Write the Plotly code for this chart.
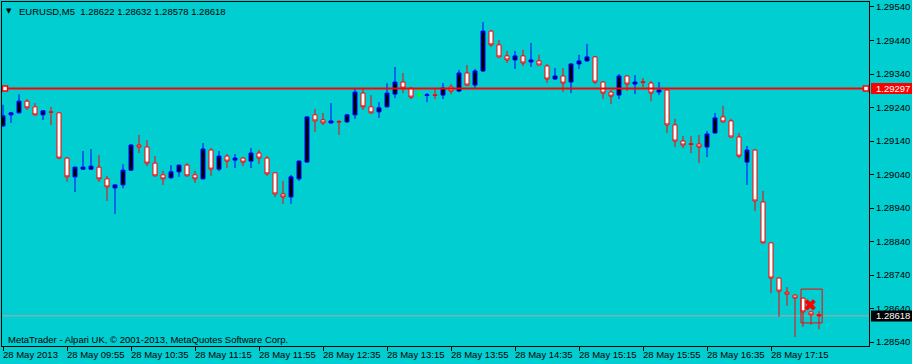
import plotly.graph_objects as go

# ---------------- data ----------------
bar_index = list(range(103))  # 5-minute bars, 0 = 28 May 09:15
open_ = [1.29185, 1.29218, 1.29224, 1.29259, 1.29242, 1.29218, 1.29227, 1.29224, 1.29089, 1.29033,
         1.29056, 1.29056, 1.29062, 1.29027, 1.29000, 1.29009, 1.29053, 1.29128, 1.29122, 1.29074,
         1.29039, 1.29030, 1.29048, 1.29068, 1.29039, 1.29027, 1.29113, 1.29056, 1.29095, 1.29083,
         1.29089, 1.29080, 1.29104, 1.29089, 1.29045, 1.28982, 1.28973, 1.29027, 1.29077, 1.29218,
         1.29203, 1.29194, 1.29198, 1.29197, 1.29218, 1.29283, 1.29242, 1.29227, 1.29242, 1.29280,
         1.29316, 1.29298, 1.29277, 1.29276, 1.29278, 1.29277, 1.29301, 1.29289, 1.29343, 1.29307,
         1.29349, 1.29468, 1.29427, 1.29394, 1.29382, 1.29394, 1.29376, 1.29379, 1.29364, 1.29325,
         1.29334, 1.29316, 1.29370, 1.29379, 1.29391, 1.29316, 1.29286, 1.29277, 1.29334, 1.29310,
         1.29317, 1.29313, 1.29286, 1.29292, 1.29188, 1.29140, 1.29132, 1.29131, 1.29122, 1.29164,
         1.29212, 1.29200, 1.29152, 1.29077, 1.29113, 1.28958, 1.28836, 1.28731, 1.28689, 1.28680,
         1.28671, 1.28630, 1.28622]
high = [1.29248, 1.29227, 1.29280, 1.29265, 1.29253, 1.29230, 1.29242, 1.29226, 1.29092, 1.29063,
        1.29110, 1.29116, 1.29098, 1.29036, 1.29010, 1.29071, 1.29131, 1.29158, 1.29143, 1.29095,
        1.29051, 1.29068, 1.29069, 1.29074, 1.29051, 1.29134, 1.29119, 1.29110, 1.29101, 1.29101,
        1.29092, 1.29119, 1.29113, 1.29095, 1.29047, 1.29021, 1.29039, 1.29082, 1.29214, 1.29236,
        1.29224, 1.29253, 1.29203, 1.29221, 1.29298, 1.29298, 1.29277, 1.29256, 1.29313, 1.29361,
        1.29343, 1.29300, 1.29295, 1.29283, 1.29298, 1.29313, 1.29310, 1.29352, 1.29367, 1.29355,
        1.29495, 1.29471, 1.29442, 1.29409, 1.29409, 1.29412, 1.29433, 1.29397, 1.29370, 1.29358,
        1.29358, 1.29372, 1.29397, 1.29430, 1.29394, 1.29318, 1.29292, 1.29340, 1.29336, 1.29337,
        1.29328, 1.29319, 1.29316, 1.29294, 1.29206, 1.29155, 1.29155, 1.29158, 1.29170, 1.29224,
        1.29245, 1.29206, 1.29164, 1.29125, 1.29115, 1.28991, 1.28838, 1.28733, 1.28704, 1.28682,
        1.28673, 1.28632, 1.28632]
low = [1.29182, 1.29194, 1.29222, 1.29233, 1.29216, 1.29203, 1.29188, 1.29086, 1.29018, 1.28988,
       1.29055, 1.29055, 1.29018, 1.28961, 1.28922, 1.28999, 1.29051, 1.29104, 1.29065, 1.29034,
       1.29009, 1.29028, 1.29033, 1.29034, 1.29015, 1.29025, 1.29036, 1.29050, 1.29059, 1.29059,
       1.29065, 1.29059, 1.29071, 1.29036, 1.28973, 1.28952, 1.28952, 1.29021, 1.29075, 1.29167,
       1.29188, 1.29192, 1.29158, 1.29194, 1.29206, 1.29233, 1.29222, 1.29209, 1.29240, 1.29268,
       1.29283, 1.29265, 1.29268, 1.29256, 1.29265, 1.29265, 1.29280, 1.29286, 1.29305, 1.29295,
       1.29346, 1.29421, 1.29389, 1.29373, 1.29355, 1.29364, 1.29361, 1.29365, 1.29313, 1.29323,
       1.29286, 1.29283, 1.29355, 1.29377, 1.29310, 1.29265, 1.29250, 1.29265, 1.29289, 1.29280,
       1.29301, 1.29259, 1.29277, 1.29164, 1.29122, 1.29119, 1.29104, 1.29074, 1.29092, 1.29162,
       1.29195, 1.29150, 1.29089, 1.29009, 1.28931, 1.28834, 1.28686, 1.28615, 1.28648, 1.28555,
       1.28585, 1.28591, 1.28578]
close = [1.29215, 1.29224, 1.29259, 1.29239, 1.29218, 1.29230, 1.29226, 1.29089, 1.29033, 1.29062,
         1.29062, 1.29065, 1.29027, 1.29003, 1.29009, 1.29053, 1.29128, 1.29122, 1.29074, 1.29036,
         1.29027, 1.29048, 1.29068, 1.29036, 1.29027, 1.29116, 1.29056, 1.29095, 1.29080, 1.29089,
         1.29077, 1.29104, 1.29089, 1.29042, 1.28982, 1.28973, 1.29033, 1.29080, 1.29212, 1.29200,
         1.29194, 1.29200, 1.29197, 1.29218, 1.29286, 1.29242, 1.29224, 1.29239, 1.29283, 1.29316,
         1.29298, 1.29271, 1.29277, 1.29278, 1.29276, 1.29298, 1.29289, 1.29343, 1.29307, 1.29349,
         1.29468, 1.29427, 1.29391, 1.29382, 1.29394, 1.29373, 1.29382, 1.29367, 1.29325, 1.29334,
         1.29313, 1.29370, 1.29379, 1.29391, 1.29316, 1.29283, 1.29274, 1.29334, 1.29310, 1.29316,
         1.29315, 1.29283, 1.29292, 1.29188, 1.29140, 1.29128, 1.29130, 1.29122, 1.29161, 1.29209,
         1.29197, 1.29152, 1.29095, 1.29113, 1.28961, 1.28836, 1.28731, 1.28692, 1.28683, 1.28671,
         1.28630, 1.28621, 1.28618]

label_index = [0, 8, 16, 24, 32, 40, 48, 56, 64, 72, 80, 88, 96]
time_labels = ["28 May 2013", "28 May 09:55", "28 May 10:35", "28 May 11:15", "28 May 11:55",
               "28 May 12:35", "28 May 13:15", "28 May 13:55", "28 May 14:35", "28 May 15:15",
               "28 May 15:55", "28 May 16:35", "28 May 17:15"]
price_ticks = [1.28540, 1.28640, 1.28740, 1.28840, 1.28940, 1.29040,
               1.29140, 1.29240, 1.29340, 1.29440, 1.29540]

symbol_text = "EURUSD,M5"
last_ohlc = [1.28622, 1.28632, 1.28578, 1.28618]
hline_price = 1.29297
bid_price = 1.28618
copyright_text = "MetaTrader - Alpari UK, \u00a9 2001-2013, MetaQuotes Software Corp."

# trade object drawn on the last bars (bar index / price)
box_x = [99.75, 102.4]
box_y = [1.28597, 1.28698]
close_mark_x = [100.9]
close_mark_y = [1.28651]

# ---------------- style ----------------
BG = "#00CED1"
FONT = "Liberation Sans"
FS = 9.5

# plot area in pixels: x 2..869, y 2..346
L, R, T, B = 2, 43, 2, 18
W, H = 912, 364
PW, PH = W - L - R, H - T - B

def px_to_paper_x(px):
    return (px - L) / PW

def px_to_paper_y(py):
    return (H - B - py) / PH

reg = [i for i in bar_index if open_[i] != close[i]]
doj = [i for i in bar_index if open_[i] == close[i]]

fig = go.Figure()
fig.add_trace(go.Candlestick(
    x=[bar_index[i] for i in reg], open=[open_[i] for i in reg], high=[high[i] for i in reg],
    low=[low[i] for i in reg], close=[close[i] for i in reg],
    increasing=dict(line=dict(color="#0000FF", width=1), fillcolor="#000000"),
    decreasing=dict(line=dict(color="#FF0000", width=1), fillcolor="#FFFFFF"),
    whiskerwidth=0, hoverinfo="skip", showlegend=False))
fig.add_trace(go.Candlestick(
    x=[bar_index[i] for i in doj], open=[open_[i] for i in doj], high=[high[i] for i in doj],
    low=[low[i] for i in doj], close=[close[i] for i in doj],
    increasing=dict(line=dict(color="#00FF00", width=1), fillcolor="#00FF00"),
    decreasing=dict(line=dict(color="#00FF00", width=1), fillcolor="#00FF00"),
    whiskerwidth=0, hoverinfo="skip", showlegend=False))

# close marker (red X)
fig.add_trace(go.Scatter(x=close_mark_x, y=close_mark_y, mode="markers",
                         marker=dict(symbol="x", size=10, color="#FF0000", line=dict(width=0)),
                         hoverinfo="skip", showlegend=False))

shapes = []
# bid line
shapes.append(dict(type="line", xref="paper", yref="y", x0=0, x1=1, y0=bid_price, y1=bid_price,
                   line=dict(color="#C0A0A0", width=1), layer="below"))
# horizontal red line
shapes.append(dict(type="line", xref="paper", yref="y", x0=0, x1=1, y0=hline_price, y1=hline_price,
                   line=dict(color="#FF0000", width=2), layer="above"))
# anchor squares at both ends of the line
for pxc in (5, 866):
    shapes.append(dict(type="rect", xref="paper", yref="y", xsizemode="pixel", ysizemode="pixel",
                       xanchor=px_to_paper_x(pxc), yanchor=hline_price, x0=-2.5, x1=2.5, y0=-2.5, y1=2.5,
                       line=dict(color="#FF0000", width=1.5), fillcolor="#FFFFFF", layer="above"))
# rectangle object
shapes.append(dict(type="rect", xref="x", yref="y", x0=box_x[0], x1=box_x[1], y0=box_y[0], y1=box_y[1],
                   line=dict(color="#FF0000", width=1), fillcolor="rgba(0,0,0,0)", layer="above"))
# price label boxes on the right axis
shapes.append(dict(type="rect", xref="paper", yref="y", ysizemode="pixel", yanchor=hline_price,
                   x0=px_to_paper_x(871), x1=px_to_paper_x(912), y0=-5.5, y1=5.5,
                   line=dict(width=0), fillcolor="#FF0000", layer="above"))
shapes.append(dict(type="rect", xref="paper", yref="y", ysizemode="pixel", yanchor=bid_price,
                   x0=px_to_paper_x(871), x1=px_to_paper_x(912), y0=-5.5, y1=5.5,
                   line=dict(width=0), fillcolor="#000000", layer="above"))

annotations = []
title = "\u00a0\u00a0".join([symbol_text, " ".join(f"{v:.5f}" for v in last_ohlc)])
annotations.append(dict(xref="paper", yref="paper", x=px_to_paper_x(17), y=px_to_paper_y(11),
                        text=title, showarrow=False, xanchor="left", yanchor="middle",
                        font=dict(family=FONT, size=FS, color="#000000")))
annotations.append(dict(xref="paper", yref="paper", x=px_to_paper_x(9), y=px_to_paper_y(11),
                        text="\u25bc", showarrow=False, xanchor="center", yanchor="middle",
                        font=dict(family="DejaVu Sans", size=7, color="#000000")))
annotations.append(dict(xref="paper", yref="paper", x=px_to_paper_x(6), y=px_to_paper_y(339),
                        text=copyright_text, showarrow=False, xanchor="left", yanchor="middle",
                        font=dict(family=FONT, size=FS, color="#000000")))
for idx, txt in zip(label_index, time_labels):
    annotations.append(dict(xref="x", yref="paper", x=idx, y=px_to_paper_y(354), text=txt,
                            showarrow=False, xanchor="left", yanchor="middle", xshift=-2,
                            font=dict(family=FONT, size=FS, color="#000000")))
for price, col in ((hline_price, "#FFFFFF"), (bid_price, "#FFFFFF")):
    annotations.append(dict(xref="paper", yref="y", x=px_to_paper_x(874), y=price,
                            text=f"{price:.5f}", showarrow=False, xanchor="left", yanchor="middle",
                            font=dict(family=FONT, size=FS, color=col)))

fig.update_layout(
    template="none", width=W, height=H, margin=dict(l=L, r=R, t=T, b=B, pad=0),
    paper_bgcolor=BG, plot_bgcolor=BG, showlegend=False, boxgap=0.5, boxgroupgap=0,
    shapes=shapes, annotations=annotations, hovermode=False,
    xaxis=dict(range=[-0.125, 108.25], rangeslider=dict(visible=False), showgrid=False, zeroline=False,
               showline=True, linecolor="#000000", linewidth=1, mirror=True, ticks="outside", ticklen=4,
               tickcolor="#000000", tickwidth=1, tickvals=label_index, showticklabels=False,
               automargin=False, fixedrange=True),
    yaxis=dict(range=[1.285281, 1.295549], side="right", showgrid=False, zeroline=False,
               showline=True, linecolor="#000000", linewidth=1, mirror=True, ticks="outside", ticklen=4,
               tickcolor="#000000", tickwidth=1, tickvals=price_ticks,
               ticktext=[f"{v:.5f}" for v in price_ticks],
               tickfont=dict(family=FONT, size=FS, color="#000000"), automargin=False, fixedrange=True),
)

fig.write_html("out.html", config={"displayModeBar": False})
